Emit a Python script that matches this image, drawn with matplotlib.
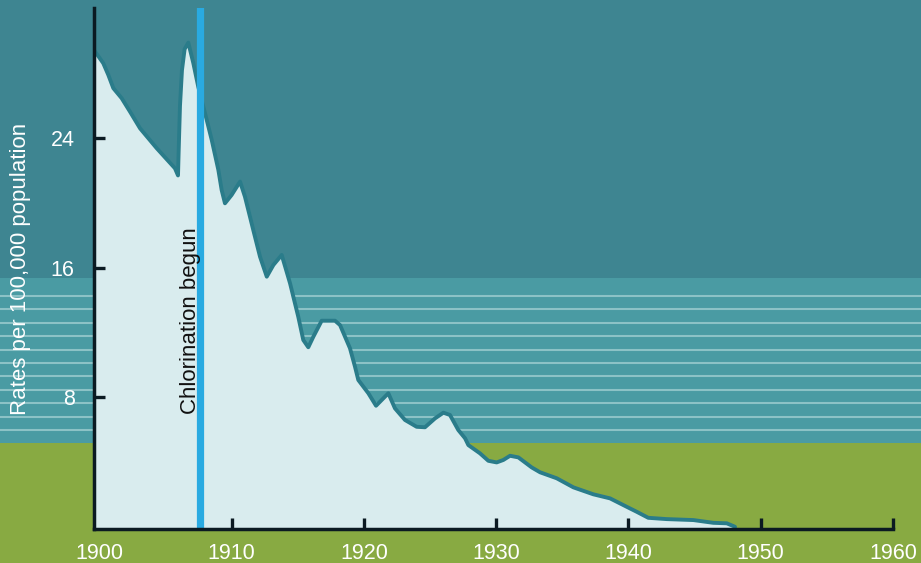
import numpy as np
import matplotlib.pyplot as plt

plt.rcParams['font.family'] = ['Liberation Sans', 'DejaVu Sans']

# Typhoid death rate (per 100,000 population)
years = [1899.6, 1899.68, 1900.30, 1900.68, 1901.06, 1901.69, 1902.32, 1903.08,
         1904.34, 1905.72, 1905.95, 1906.0, 1906.1, 1906.25, 1906.45, 1906.73,
         1907.11, 1907.48, 1908.12, 1908.5, 1909.0, 1909.25, 1909.5, 1910.0,
         1910.64, 1911.01, 1911.39, 1911.64, 1912.15, 1912.66, 1913.16, 1913.79,
         1914.42, 1915.04, 1915.42, 1915.80, 1916.18, 1916.81, 1917.82, 1918.20,
         1918.95, 1919.33, 1919.58, 1920.34, 1920.92, 1921.85, 1922.35, 1923.11,
         1923.99, 1924.62, 1925.38, 1926.01, 1926.51, 1927.14, 1927.65, 1927.90,
         1928.78, 1929.41, 1930.04, 1930.54, 1931.05, 1931.68, 1932.69, 1933.32,
         1934.58, 1935.84, 1937.35, 1938.61, 1939.87, 1940.63, 1941.50, 1942.89,
         1944.91, 1946.42, 1947.43, 1947.93, 1948.06]
rates = [29.45, 29.35, 28.63, 27.91, 27.09, 26.47, 25.64, 24.61,
         23.38, 22.14, 21.7, 23.2, 26.0, 28.2, 29.5, 29.9,
         28.63, 27.18, 25.13, 23.89, 22.04, 20.80, 19.98, 20.49,
         21.32, 20.39, 19.15, 18.33, 16.68, 15.45, 16.17, 16.79,
         15.04, 12.98, 11.54, 11.09, 11.74, 12.73, 12.73, 12.46,
         11.03, 9.89, 9.07, 8.25, 7.48, 8.25, 7.32, 6.60,
         6.18, 6.15, 6.70, 7.05, 6.91, 5.98, 5.47, 5.05,
         4.54, 4.08, 3.98, 4.13, 4.39, 4.29, 3.67, 3.37,
         3.00, 2.44, 2.01, 1.76, 1.24, 0.93, 0.56, 0.48,
         0.42, 0.25, 0.22, 0.05, 0.0]

chlorination_year = 1907.63
x_ticks = [1900, 1910, 1920, 1930, 1940, 1950, 1960]
y_ticks = [8, 16, 24]

W, H = 921, 563
fig = plt.figure(figsize=(W / 100, H / 100), dpi=100)

# background bands in pixel coordinates
bg = fig.add_axes([0, 0, 1, 1], zorder=0)
bg.set_xlim(0, W)
bg.set_ylim(H, 0)
bg.axis('off')
bg.axhspan(0, 277.7, color='#3e8591', lw=0)
bg.axhspan(277.7, 442.7, color='#4a9ba3', lw=0)
bg.axhspan(442.7, H, color='#88aa42', lw=0)
for yy in np.linspace(296, 430, 11):
    bg.axhline(yy, color='#8cc2c6', lw=1.5)

ax = fig.add_axes([94 / W, 1 - 529.3 / H, 799 / W, (529.3 - 8) / H], zorder=1)
ax.set_facecolor('none')

ax.fill_between(years, rates, -0.15, color='#d9ecee', lw=0, zorder=1)
ax.plot(years, rates, color='#2a7c8a', lw=2.8, solid_joinstyle='round',
        solid_capstyle='round', zorder=2)
ax.axvline(chlorination_year, color='#29aae1', lw=5.2, zorder=2.2)
ax.text(1906.9, 12.72, 'Chlorination begun', rotation=90, ha='center', va='center',
        fontsize=16, color='#111111', zorder=3)

ax.set_xlim(1899.6, 1960)
ax.set_ylim(-0.15, 32.04)
ax.set_xticks(x_ticks)
ax.set_yticks(y_ticks)
ax.set_xticklabels([str(v) for v in x_ticks])
ax.set_yticklabels([str(v) for v in y_ticks])
ax.xaxis.get_major_ticks()[0].tick1line.set_visible(False)

for side in ['top', 'right']:
    ax.spines[side].set_visible(False)
for side in ['left', 'bottom']:
    ax.spines[side].set_color('#0b1a22')
    ax.spines[side].set_linewidth(2.5)

ax.tick_params(axis='both', direction='in', length=8, width=2.4, color='#0b1a22',
               labelcolor='white', labelsize=15.5)
ax.tick_params(axis='x', pad=10)
ax.tick_params(axis='y', pad=14)

ax.set_ylabel('Rates per 100,000 population', color='white', fontsize=16)
ax.yaxis.set_label_coords(-63 / 799, 0.5)

fig.savefig('out.png', dpi=100)
